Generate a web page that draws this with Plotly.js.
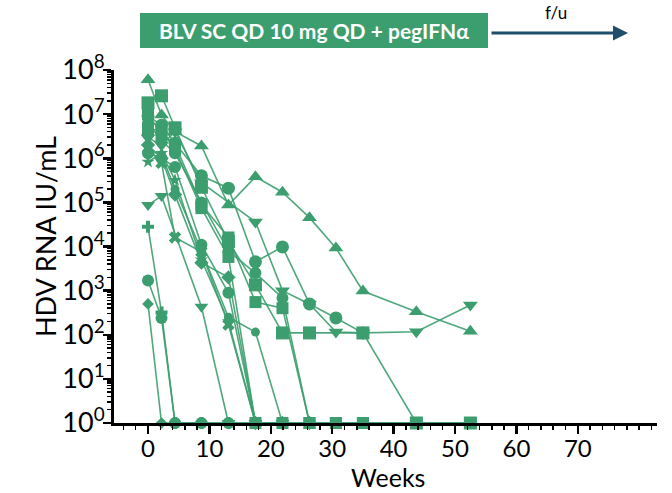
<!DOCTYPE html>
<html>
<head>
<meta charset="utf-8">
<script src="https://cdn.plot.ly/plotly-3.0.1.min.js"></script>
<style>html,body{margin:0;padding:0;background:#fff;}#chart{width:672px;height:493px;}</style>
</head>
<body>
<div id="chart"></div>
<script>
// Visit positions as read against the drawn week axis
const weeks = [0, 2.2, 4.4, 8.7, 13.1, 17.5, 21.9, 26.3, 30.6, 35.0, 43.7, 52.5];

// HDV RNA (IU/mL) per participant; 1 = undetectable (plotted on the axis)
const ptTriUp     = [6.0e7, 9.5e6, 4.0e6, 1.9e6, 8.7e4, 3.8e5, 1.7e5, 4.5e4, 9.3e3, 980, 330, 120];
const ptTriDownA  = [2.9e6, 2.0e6, 4.0e6, 2.8e5, null, 3.6e4, 1000, 500, 115, 110, 117, 470];
const ptSquareA   = [1.8e7, 2.6e7, 4.9e6, 2.2e5, 1.3e4, 1350, 110, 110, null, 110, 1, 1];
const ptSquareB   = [4.5e6, 4.4e6, 1.6e6, 7.4e4, 5.8e3, 1, 1, 1, 1, 1, 1, 1];
const ptSquareC   = [1.0e7, 3.5e6, 2.0e6, 8.9e4, 1.6e4, 550, 400, 1, 1, 1, 1, 1];
const ptCircleA   = [9.1e6, 5.6e6, 2.2e6, 4.0e5, 2.1e5, 4.5e3, 9.8e3, 500, 240, 110];
const ptCircleB   = [1.3e6, 1.0e6, 6.3e5, 1.1e4, 890, 1, 1];
const ptCircleC   = [1.7e3, 240, 1, 1, 1, 1, 1];
const ptCircleD   = [6.3e6, 2.5e6, 1.3e6, 1.0e5, 7.9e3, 2.5e3, 680, 1, 1, 1, 1];
const ptCircleE   = [1.5e6, 1.2e6, 2.0e5, 8.0e3, 250, 115, 1, 1];
const ptCross     = [1.7e6, 7.9e5, 1.6e4, 7.6e3, 170, 1, 1];
const ptStar      = [8.3e5, 1.3e6, 3.2e5, 5.0e3, 200, 1, 1];
const ptTriDownB  = [8.7e4, 1.4e5, null, 430, 1, 1, 1];
const ptPlus      = [2.8e4, 320, 1, 1, 1];
const ptDiamondA  = [500, 1, 1, 1];
const ptDiamondB  = [2.0e6, 1.0e6, 1.5e5, 4.3e3, 2.0e3, 1, 1, 1];

const yTickVals = [1, 10, 100, 1e3, 1e4, 1e5, 1e6, 1e7, 1e8];
const yTickText = ['10<sup>0</sup>','10<sup>1</sup>','10<sup>2</sup>','10<sup>3</sup>','10<sup>4</sup>','10<sup>5</sup>','10<sup>6</sup>','10<sup>7</sup>','10<sup>8</sup>'];
const xTickVals = [0, 10, 20, 30, 40, 50, 60, 70];

const green = 'rgb(60,158,110)';
const lineGreen = 'rgba(60,158,110,0.9)';

function series(vals, symbol, size) {
  return {
    type: 'scatter', mode: 'lines+markers',
    x: weeks.slice(0, vals.length), y: vals,
    connectgaps: true,
    line: {color: lineGreen, width: 1.6},
    marker: {symbol: symbol, size: size, color: green, line: {width: 0}},
    hoverinfo: 'x+y', showlegend: false, cliponaxis: false
  };
}

const data = [
  series(ptDiamondA, 'diamond', 9),
  series(ptPlus, 'cross', 10),
  series(ptCircleC, 'circle', 12),
  series(ptTriDownB, 'triangle-down', 12),
  series(ptStar, 'star', 10),
  series(ptCross, 'x', 11),
  series(ptCircleE, 'circle', 9),
  series(ptDiamondB, 'diamond', 11),
  series(ptCircleB, 'circle', 12),
  series(ptCircleD, 'circle', 12),
  series(ptCircleA, 'circle', 13),
  series(ptSquareC, 'square', 12),
  series(ptSquareB, 'square', 12),
  series(ptSquareA, 'square', 13),
  series(ptTriDownA, 'triangle-down', 13),
  series(ptTriUp, 'triangle-up', 13)
];

// pixel helpers for the banner (plot area: x 114..657, y 70..423)
const L = 114, T = 70, W = 543, H = 353;
const px = v => (v - L) / W;
const py = v => (T + H - v) / H;

const layout = {
  width: 672, height: 493,
  margin: {l: L, r: 672 - L - W, t: T, b: 493 - T - H, pad: 0},
  paper_bgcolor: '#fff', plot_bgcolor: '#fff',
  font: {family: 'Lato, "Open Sans", sans-serif', color: '#000'},
  showlegend: false,
  xaxis: {
    range: [-5.54, 82.9], showgrid: false, zeroline: false,
    showline: true, linecolor: '#000', linewidth: 2.5,
    tickmode: 'array', tickvals: xTickVals,
    ticks: 'outside', ticklen: 8, tickwidth: 2.5, tickcolor: '#000',
    minor: {dtick: 2, tick0: 0, ticks: 'outside', ticklen: 4, tickwidth: 1.5, tickcolor: '#000', showgrid: false},
    tickfont: {size: 24, family: 'Lato', color: '#000'},
    ticklabelstandoff: -5,
    fixedrange: true
  },
  yaxis: {
    type: 'log', range: [0, 8], showgrid: false, zeroline: false,
    showline: true, linecolor: '#000', linewidth: 3,
    tickmode: 'array', tickvals: yTickVals, ticktext: yTickText,
    ticks: 'outside', ticklen: 8, tickwidth: 2.5, tickcolor: '#000',
    minor: {dtick: 'D1', ticks: 'outside', ticklen: 4, tickwidth: 1.5, tickcolor: '#000', showgrid: false},
    tickfont: {size: 27, family: 'Lato', color: '#000'},
    ticklabelstandoff: -7,
    fixedrange: true
  },
  shapes: [
    {type: 'rect', xref: 'paper', yref: 'paper', x0: px(140), x1: px(488), y0: py(48), y1: py(13),
     fillcolor: green, line: {width: 0}, layer: 'above'}
  ],
  annotations: [
    {xref: 'paper', yref: 'paper', x: px(314), y: py(31), text: '<b>BLV SC QD 10 mg QD + pegIFNα</b>',
     showarrow: false, font: {size: 21, family: 'Lato', color: '#fff'}, xanchor: 'center', yanchor: 'middle'},
    {xref: 'paper', yref: 'paper', x: px(628), y: py(33), text: '', showarrow: true,
     axref: 'pixel', ayref: 'pixel', ax: -138, ay: 0, arrowhead: 2, arrowsize: 1, arrowwidth: 3, arrowcolor: '#1f4e6b'},
    {xref: 'paper', yref: 'paper', x: px(556), y: py(13), text: 'f/u', showarrow: false,
     font: {size: 17, family: 'Lato', color: '#000'}, xanchor: 'center', yanchor: 'middle'},
    {xref: 'paper', yref: 'paper', x: px(388), y: py(477), text: 'Weeks', showarrow: false,
     font: {size: 25, family: 'Lato', color: '#000'}, xanchor: 'center', yanchor: 'middle', borderpad: 0},
    {xref: 'paper', yref: 'paper', x: px(45), y: py(237), text: 'HDV RNA IU/mL', showarrow: false, textangle: -90,
     font: {size: 27, family: 'Lato', color: '#000'}, xanchor: 'center', yanchor: 'middle'}
  ]
};

Plotly.newPlot('chart', data, layout, {staticPlot: true, displayModeBar: false});
</script>
</body>
</html>
